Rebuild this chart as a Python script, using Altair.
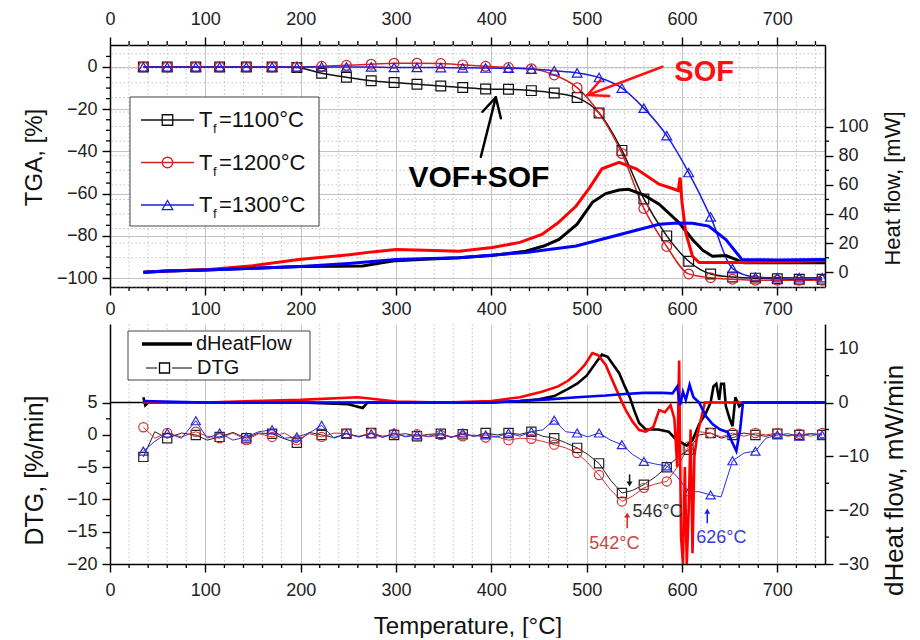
import altair as alt
import pandas as pd

FONT = "Liberation Sans"

# ---------------- data ----------------
SERIES = ["1100", "1200", "1300"]

# TGA (marker temperatures)
T_MK = [35, 60, 90, 115, 143, 170, 196, 222, 248, 274, 298, 322, 347, 370, 394,
        418, 442, 466, 490, 513, 537, 560, 584, 607, 630, 653, 677, 700, 723, 747]
TGA_1100 = [0, 0, 0, 0, 0, 0, -0.3, -3, -4.9, -6.5, -7.4, -8.2, -9, -9.7, -10.4,
            -10.6, -11.2, -12.3, -14.5, -21.8, -39.5, -62.5, -80, -92, -98, -99.5, -100, -100.3, -100.5, -100.5]
TGA_1200 = [0, 0, 0, 0, 0, 0, 0, 0.3, 0.8, 1.3, 1.8, 1.8, 1.6, 1.0, 0.3,
            -0.3, -0.8, -3.8, -9.8, -21.8, -41, -67, -85, -98, -99.8, -100.5, -101, -101, -101, -101]
TGA_1300 = [0, 0, 0, 0, 0, 0, 0, 0, 0, 0, -0.2, -0.2, -0.3, -0.4, -0.5,
            -0.6, -1.0, -1.8, -2.8, -5, -10, -19.5, -32.5, -50, -71, -95.5, -99.5, -99.8, -99.8, -99.8]

# Heat flow
HF_1100_T = [35, 60, 100, 150, 200, 240, 265, 285, 300, 330, 366, 400, 436, 455, 471, 490, 506, 520,
             534, 544, 560, 576, 597, 611, 622, 632, 646, 657, 665, 700, 750]
HF_1100 = [0, 0.8, 1.5, 2.8, 4, 4.2, 4.3, 6.5, 8, 9, 10, 11.5, 14.5, 18, 22.5, 33, 48, 54,
           56.5, 57, 53, 46.7, 34, 22.5, 15, 11, 11.5, 8.7, 6.5, 6.5, 6.5]
HF_1200_T = [35, 60, 104, 150, 198, 251, 275, 300, 330, 366, 401, 430, 453, 470, 489, 503, 516, 534,
             552, 576, 590, 596, 598, 600, 604, 611, 618, 660, 700, 750]
HF_1200 = [0, 0.8, 1.9, 4.5, 8.7, 12, 14, 15.7, 15.2, 14.5, 17, 20.5, 26, 34, 45.5, 58, 71, 75.4,
           71, 60.5, 57.5, 56, 65, 48, 27, 11, 6.7, 6.7, 7.2, 8]
HF_1300_T = [35, 60, 100, 150, 200, 250, 300, 366, 436, 489, 541, 576, 595, 611, 628, 646, 663, 700, 750]
HF_1300 = [0, 0.8, 1.5, 2.8, 4, 6, 8.7, 10, 13.6, 18, 27, 32.9, 33.8, 33.6, 31.7, 22.5, 8.7, 8.5, 8.7]

# DTG (every second point carries a marker)
T_DTG = [35, 47, 60, 75, 90, 102, 115, 129, 143, 156, 170, 183, 196, 209, 222, 235, 248, 261, 274, 286,
         298, 310, 322, 334, 347, 358, 370, 382, 394, 406, 418, 430, 442, 454, 466, 478, 490, 501, 513, 525,
         537, 548, 560, 572, 584, 595, 607, 618, 630, 641, 653, 665, 677, 688, 700, 711, 723, 735, 747]
DTG_1100 = [-3.4, 0.5, -0.5, 0.3, 0.0, -0.8, -0.3, 0.4, -0.5, 0.3,
            0.2, -0.6, -1.2, 0.4, 0.0, -0.4, 0.2, -0.3, 0.3, -0.2,
            0.0, 0.2, -0.2, 0.1, 0.2, -0.3, 0.1, -0.2, 0.3, 0.0,
            0.3, 0.1, 0.5, -0.2, -0.5, -1.2, -2.0, -3.0, -4.4, -7.0,
            -9.0, -8.6, -7.7, -6.5, -5.0, -3.5, -2.3, 0.0, 0.3, -0.5,
            0.0, 0.3, 0.0, -0.2, 0.2, -0.1, 0.0, 0.2, 0.0]
DTG_1200 = [1.2, -0.5, 0.3, -0.3, 0.5, -0.2, -0.5, 0.3, -0.8, 0.2,
            -0.3, 0.3, -0.8, 0.2, -0.3, 0.3, 0.2, -0.2, 0.3, -0.3,
            0.2, -0.2, 0.1, -0.3, 0.0, -0.3, -0.2, 0.0, -0.4, -0.3,
            -0.8, -0.5, -0.6, -1.0, -1.5, -2.0, -2.8, -4.3, -6.2, -8.5,
            -10.3, -9.5, -8.2, -7.6, -7.2, -5.0, -1.8, 0.5, 0.3, -0.3,
            0.3, -0.2, 0.3, 0.0, 0.3, -0.2, 0.2, -0.2, 0.3]
DTG_1300 = [-2.5, -1.0, 0.3, -0.5, 2.2, -0.5, 0.3, -0.8, -0.3, 0.5,
            0.8, -0.5, -0.3, 0.3, 1.5, -0.5, 0.2, -0.3, 0.2, -0.4,
            0.3, -0.3, 0.0, -0.2, 0.2, -0.4, 0.3, -0.2, 0.0, -0.3,
            0.3, -0.2, 0.5, 0.8, 2.3, 0.5, 0.3, -0.3, 0.3, -0.8,
            -1.5, -3.0, -4.1, -4.5, -4.8, -6.5, -8.8, -8.8, -9.3, -9.6,
            -4.0, -2.8, -2.5, -0.5, 0.0, 0.2, -0.2, 0.2, 0.0]

# dHeatFlow
DHF_1100_T = [35, 37, 40, 100, 150, 200, 250, 265, 270, 300, 350, 400, 430, 450, 466, 480, 490, 500, 510, 516,
              522, 528, 534, 540, 545, 550, 555, 562, 575, 586, 594, 600, 605, 611, 618, 625, 630, 633, 636, 639,
              641, 644, 646, 650, 653, 656, 660, 665, 700, 750]
DHF_1100 = [1, -0.5, 0, 0, 0, 0, -0.3, -1, 0, 0, 0, 0, 0.3, 0.6, 1.2, 2.5, 3.5, 5, 7.5, 8.9,
            8.5, 7, 5.5, 3, 1.1, -1.5, -3.8, -5, -5, -5.4, -6.9, -7.5, -8, -7, -4, -2, 0, 3, 3.5, 0.5,
            3.5, 3.5, -0.7, -3, -4.4, 1, -0.7, 0, 0, 0]
DHF_1200_T = [35, 100, 150, 200, 260, 270, 300, 350, 400, 430, 453, 470, 480, 489, 498, 506, 512, 520, 526, 531,
              536, 541, 548, 555, 562, 570, 576, 582, 588, 592, 595, 597, 599, 601, 603, 605, 607, 609, 611, 613,
              616, 620, 624, 660, 750]
DHF_1200 = [0, 0, 0.3, 0.5, 1, 0.8, 0.2, 0, 0.3, 1, 2, 3, 4, 5.3, 7, 9.2, 8.8, 7, 4.5, 2.5,
            0.5, -1.4, -3.5, -5.1, -5.4, -4.5, -1.4, -1.8, -0.5, -3, -12, 7.8, -25, -30, -12, -30, -20, -5, -28, -10,
            -6, -3, 0, 0, 0]
DHF_1300_T = [35, 100, 200, 300, 400, 430, 460, 490, 520, 540, 560, 580, 590, 595, 598, 601, 604, 608, 612, 618,
              625, 632, 640, 648, 653, 657, 661, 664, 700, 750]
DHF_1300 = [0.3, 0, 0, 0, 0, 0.3, 0.6, 1, 1.3, 1.6, 1.8, 1.8, 1.7, 3, -0.5, 2, 0.5, 3.3, 1, 0,
            -2.5, -4, -5, -5.5, -7.5, -9, -5, 0, 0, 0]

# annotations (data coordinates)
SOF_ARROW = [(579.5, 0.1, 500.9, -13.3), (514.5, -6.2, 500.9, -13.3), (523.6, -13.8, 500.9, -13.3)]
VOF_ARROW = [(389, -42.5, 404.7, -14.4), (390.7, -21.2, 404.7, -14.4), (410, -24.3, 404.7, -14.4)]
PEAKS = [("546\u00b0C", 545, -6.2, -7.6, 548, -11.9, "#333333", "#111111", "triangle-down"),
         ("542\u00b0C", 542.5, -14.4, -12.4, 502.6, -16.9, "#c84646", "#e02020", "triangle-up"),
         ("626\u00b0C", 626.5, -13.6, -11.8, 615, -15.9, "#3c3cd2", "#2020e0", "triangle-up")]

# tick values
MAJ_X = [0, 100, 200, 300, 400, 500, 600, 700]
MIN_X = [20, 40, 60, 80, 120, 140, 160, 180, 220, 240, 260, 280, 320, 340, 360, 380, 420, 440, 460, 480,
         520, 540, 560, 580, 620, 640, 660, 680, 720, 740]
TGA_MAJ = [-100, -80, -60, -40, -20, 0]
TGA_MIN = [-95, -90, -85, -75, -70, -65, -55, -50, -45, -35, -30, -25, -15, -10, -5, 5]
HF_MAJ = [0, 20, 40, 60, 80, 100]
HF_MIN = [10, 30, 50, 70, 90]
HF_DOTGRID = [-10, 10, 20, 30, 40, 50, 60, 70, 80, 90, 100, 110, 120, 130, 140, 150]
DTG_MAJ = [-20, -15, -10, -5, 0, 5]
DTG_MIN = [-17.5, -12.5, -7.5, -2.5, 2.5]
DHF_MAJ = [-30, -20, -10, 0, 10]
DHF_MIN = [-25, -15, -5, 5]

# ---------------- styling ----------------
X_DOMAIN = [0, 750]
TGA_DOMAIN = [-104.2, 10.4]
HF_DOMAIN = [-10.1, 156]
DTG_DOMAIN = [-20, 17.2]
DHF_DOMAIN = [-30, 14.6]
W, H_TOP, H_BOT = 715, 242, 240

TGA_COL = {"1100": "#111111", "1200": "#d42222", "1300": "#1c1ce0"}
HF_COL = {"1100": "#000000", "1200": "#ff0000", "1300": "#0000ff"}
DTG_COL = {"1100": "#222222", "1200": "#d83030", "1300": "#2a2ae6"}
SHAPE = {"1100": "square", "1200": "circle", "1300": "triangle-up"}
GRID = "#c2c2c2"
DOT = [1.5, 2.5]

ONE = pd.DataFrame({"T": [0.0], "v": [0.0]})


def X(axis=None, field="T"):
    return alt.X(f"{field}:Q", scale=alt.Scale(domain=X_DOMAIN, nice=False, zero=False), axis=axis)


def Y(dom, axis=None, field="v"):
    return alt.Y(f"{field}:Q", scale=alt.Scale(domain=dom, nice=False, zero=False), axis=axis)


def axis_layer(dom, xaxis, yaxis):
    return alt.Chart(ONE).mark_point(opacity=0).encode(x=X(xaxis), y=Y(dom, yaxis))


def vgrid(vals):
    return alt.Chart(pd.DataFrame({"T": vals})).mark_rule(color=GRID, strokeWidth=1, strokeDash=DOT).encode(x=X())


def hgrid(vals, dom):
    return alt.Chart(pd.DataFrame({"v": vals})).mark_rule(color=GRID, strokeWidth=1, strokeDash=DOT).encode(
        y=Y(dom))


def xticks(vals, y1, y2):
    return alt.Chart(pd.DataFrame({"T": vals})).mark_rule(color="#000000", strokeWidth=1.3).encode(
        x=X(), y=alt.value(y1), y2=alt.value(y2))


def yticks(vals, dom, x1, x2):
    return alt.Chart(pd.DataFrame({"v": vals})).mark_rule(color="#000000", strokeWidth=1.3).encode(
        y=Y(dom), x=alt.value(x1), x2=alt.value(x2))


def px_rule(x1, x2, y, color, w):
    return alt.Chart(ONE).mark_rule(color=color, strokeWidth=w).encode(
        x=alt.value(x1), x2=alt.value(x2), y=alt.value(y))


def px_text(x, y, txt, size, color="#111111", weight="normal"):
    return alt.Chart(ONE).mark_text(text=txt, font=FONT, fontSize=size, color=color, fontWeight=weight,
                                    align="left", baseline="middle").encode(x=alt.value(x), y=alt.value(y))


def px_point(x, y, shape, color, size):
    return alt.Chart(ONE).mark_point(shape=shape, filled=False, color=color, size=size, strokeWidth=1.3,
                                     opacity=1).encode(x=alt.value(x), y=alt.value(y))


def px_rect(x1, x2, y1, y2):
    return alt.Chart(ONE).mark_rect(fill="white", stroke="#444444", strokeWidth=1).encode(
        x=alt.value(x1), x2=alt.value(x2), y=alt.value(y1), y2=alt.value(y2))


def seg_layer(segs, dom, color, w):
    df = pd.DataFrame(segs, columns=["T", "v", "T2", "v2"])
    return alt.Chart(df).mark_rule(color=color, strokeWidth=w, strokeCap="round").encode(
        x=X(), x2="T2:Q", y=Y(dom), y2="v2:Q")


def data_text(T, v, txt, dom, size, color, weight="normal", align="left"):
    df = pd.DataFrame({"T": [T], "v": [v]})
    return alt.Chart(df).mark_text(text=txt, font=FONT, fontSize=size, color=color, fontWeight=weight,
                                   align=align, baseline="middle").encode(x=X(), y=Y(dom))


def line_layer(T, vals, dom, color, w, interp="linear"):
    df = pd.DataFrame({"T": T, "v": vals})
    return alt.Chart(df).mark_line(color=color, strokeWidth=w, interpolate=interp, clip=True).encode(
        x=X(), y=Y(dom))


def marker_layer(T, vals, dom, shape, color, size=95):
    df = pd.DataFrame({"T": T, "v": vals})
    return alt.Chart(df).mark_point(shape=shape, filled=False, color=color, size=size, strokeWidth=1.2,
                                    opacity=1, clip=True).encode(x=X(), y=Y(dom))


# ---------------- top panel ----------------
ax_x_bot = alt.Axis(orient="bottom", values=MAJ_X, tickSize=8, labelPadding=5, grid=True,
                    gridColor=GRID, gridWidth=1, title=None)
ax_x_top = alt.Axis(orient="top", values=MAJ_X, tickSize=8, labelPadding=9, grid=False, title=None)
ax_tga = alt.Axis(orient="left", values=TGA_MAJ, tickSize=8, labelPadding=5,
                  grid=True, gridColor=GRID, title="TGA, [%]", titleX=-69, titleY=112, titleAngle=270,
                  titleBaseline="alphabetic", titleAlign="center", titleFontSize=24)
ax_hf = alt.Axis(orient="right", values=HF_MAJ, tickSize=8, labelPadding=5,
                 grid=False, title="Heat flow, [mW]", titleX=74, titleY=143, titleAngle=270,
                 titleBaseline="alphabetic", titleAlign="center", titleFontSize=22)

tga_vals = {"1100": TGA_1100, "1200": TGA_1200, "1300": TGA_1300}
hf_data = {"1100": (HF_1100_T, HF_1100), "1200": (HF_1200_T, HF_1200), "1300": (HF_1300_T, HF_1300)}

top_layers = [
    vgrid(MIN_X),
    hgrid(HF_DOTGRID, HF_DOMAIN),
    axis_layer(TGA_DOMAIN, ax_x_bot, ax_tga),
    axis_layer(HF_DOMAIN, ax_x_top, ax_hf),
    xticks(MIN_X, -4, 0),
    xticks(MIN_X, H_TOP, H_TOP + 4),
    yticks(TGA_MIN, TGA_DOMAIN, -4, 0),
    yticks(HF_MIN, HF_DOMAIN, W, W + 4),
]
for s in SERIES:
    top_layers.append(line_layer(T_MK, tga_vals[s], TGA_DOMAIN, TGA_COL[s], 1.5, "monotone"))
for s in SERIES:
    top_layers.append(marker_layer(T_MK, tga_vals[s], TGA_DOMAIN, SHAPE[s], TGA_COL[s]))
for s in SERIES:
    t, v = hf_data[s]
    top_layers.append(line_layer(t, v, HF_DOMAIN, HF_COL[s], 3.0))

# legend (top)
top_layers.append(px_rect(20, 209, 52, 181))
for i, s in enumerate(SERIES):
    yr = 75 + i * 42.5
    top_layers.append(px_rule(31, 84, yr, TGA_COL[s], 1.6))
    top_layers.append(px_point(57.5, yr, SHAPE[s], TGA_COL[s], 110))
    top_layers.append(px_text(89, yr, "T", 22))
    top_layers.append(px_text(103, yr + 9, "f", 13))
    top_layers.append(px_text(109, yr, "=" + s + "\u00b0C", 22))

# annotations (top)
top_layers.append(seg_layer(SOF_ARROW, TGA_DOMAIN, "#ff1010", 2.5))
top_layers.append(seg_layer(VOF_ARROW, TGA_DOMAIN, "#000000", 2.5))
top_layers.append(data_text(592, -2.4, "SOF", TGA_DOMAIN, 29, "#ff1010", "bold"))
top_layers.append(data_text(387, -52.4, "VOF+SOF", TGA_DOMAIN, 30, "#000000", "bold", "center"))

top = alt.layer(*top_layers).resolve_scale(y="independent").resolve_axis(
    x="independent", y="independent").properties(width=W, height=H_TOP)

# ---------------- bottom panel ----------------
ax_xb = alt.Axis(orient="bottom", values=MAJ_X, tickSize=8, labelPadding=9, grid=True, gridColor=GRID,
                 title="Temperature, [\u00b0C]", titleFontSize=24, titleY=69, titleBaseline="alphabetic")
ax_dtg = alt.Axis(orient="left", values=DTG_MAJ, tickSize=8, labelPadding=5, grid=False,
                  title="DTG, [%/min]", titleX=-68, titleY=146, titleAngle=270, titleBaseline="alphabetic",
                  titleAlign="center", titleFontSize=25)
ax_dhf = alt.Axis(orient="right", values=DHF_MAJ, tickSize=8, labelPadding=5, grid=False,
                  title="dHeat flow, mW/min", titleX=77, titleY=156, titleAngle=270,
                  titleBaseline="alphabetic", titleAlign="center", titleFontSize=26)

dtg_vals = {"1100": DTG_1100, "1200": DTG_1200, "1300": DTG_1300}
dhf_data = {"1100": (DHF_1100_T, DHF_1100), "1200": (DHF_1200_T, DHF_1200), "1300": (DHF_1300_T, DHF_1300)}

bot_layers = [
    vgrid(MIN_X),
    axis_layer(DTG_DOMAIN, ax_xb, ax_dtg),
    axis_layer(DHF_DOMAIN, None, ax_dhf),
    xticks(MIN_X, H_BOT, H_BOT + 4),
    yticks(DTG_MIN, DTG_DOMAIN, -4, 0),
    yticks(DHF_MIN, DHF_DOMAIN, W, W + 4),
    alt.Chart(pd.DataFrame({"v": [0.0]})).mark_rule(color="#000000", strokeWidth=1.5).encode(y=Y(DHF_DOMAIN)),
]
for s in SERIES:
    bot_layers.append(line_layer(T_DTG, dtg_vals[s], DTG_DOMAIN, DTG_COL[s], 1.0))
for s in SERIES:
    bot_layers.append(marker_layer(T_DTG[::2], dtg_vals[s][::2], DTG_DOMAIN, SHAPE[s], DTG_COL[s], 85))
for s in SERIES:
    t, v = dhf_data[s]
    bot_layers.append(line_layer(t, v, DHF_DOMAIN, HF_COL[s], 2.6))

# legend (bottom)
bot_layers.append(px_rect(18, 200, 7, 56))
bot_layers.append(px_rule(32, 82, 20, "#000000", 3.5))
bot_layers.append(px_text(86, 20, "dHeatFlow", 20))
bot_layers.append(px_rule(36, 47, 44, "#000000", 1.0))
bot_layers.append(px_rule(62, 82, 44, "#000000", 1.0))
bot_layers.append(px_point(54.5, 44, "square", "#000000", 100))
bot_layers.append(px_text(87, 44, "DTG", 20))

# annotations (bottom)
for label, tx, ytail, ytip, tt, ty, tcol, acol, shp in PEAKS:
    bot_layers.append(seg_layer([(tx, ytail, tx, ytip)], DTG_DOMAIN, acol, 1.5))
    head = pd.DataFrame({"T": [tx], "v": [ytip]})
    bot_layers.append(alt.Chart(head).mark_point(shape=shp, filled=True, color=acol, size=35, opacity=1)
                      .encode(x=X(), y=Y(DTG_DOMAIN)))
    bot_layers.append(data_text(tt, ty, label, DTG_DOMAIN, 18, tcol))

bottom = alt.layer(*bot_layers).resolve_scale(y="independent").resolve_axis(
    x="independent", y="independent").properties(width=W, height=H_BOT)

chart = alt.vconcat(top, bottom, spacing=37, bounds="flush").properties(
    padding={"left": 14, "top": 2, "right": 2, "bottom": 0}
).configure_view(stroke=None).configure_axis(
    domainColor="#000000", domainWidth=1.5, tickColor="#000000", tickWidth=1.4,
    labelFont=FONT, labelFontSize=18, labelColor="#222222", labelFlush=False, labelOverlap=False,
    titleFont=FONT, titleFontWeight="normal", titleColor="#111111"
)

chart.save("out.html", embed_options={"renderer": "svg", "actions": False})
